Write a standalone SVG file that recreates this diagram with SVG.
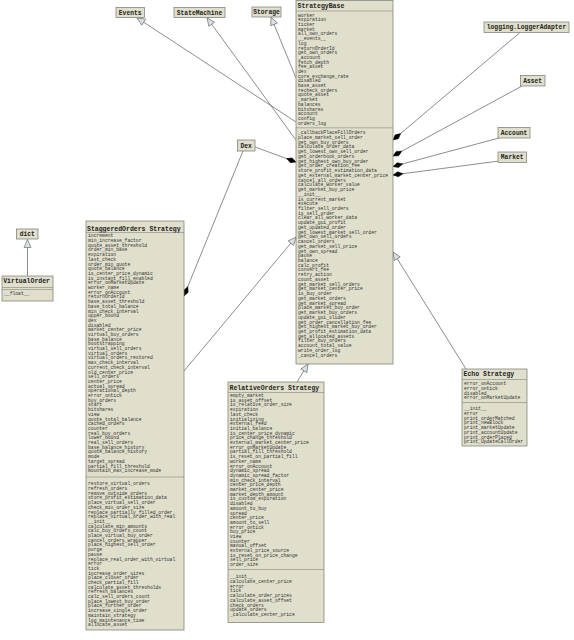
<svg xmlns="http://www.w3.org/2000/svg" width="574" height="640" viewBox="0 0 574 640">
<style>
.box{fill:#e0dfcb;stroke:#858580;stroke-width:0.8}
.sep{stroke:#858580;stroke-width:0.6}
.t{font-family:"Liberation Mono",monospace;font-size:6.5px;font-weight:bold;fill:#222}
.tc{font-family:"Liberation Mono",monospace;font-size:6.3px;font-weight:bold;fill:#222;text-anchor:middle}
.m{font-family:"Liberation Mono",monospace;font-size:4.7px;fill:#333}
.ln{fill:none;stroke:#707070;stroke-width:0.8}
.inh{marker-end:url(#tri)}
.comp{marker-end:url(#dia)}
</style>
<defs>
<marker id="tri" viewBox="-1 -1 10 9" refX="8" refY="3.5" markerWidth="10" markerHeight="9" orient="auto" markerUnits="userSpaceOnUse" overflow="visible"><path d="M0,0 L8,3.5 L0,7 Z" fill="#d6e2e8" stroke="#707070" stroke-width="0.7"/></marker>
<marker id="dia" viewBox="-1 -1 12 7" refX="10" refY="2.5" markerWidth="12" markerHeight="7" orient="auto" markerUnits="userSpaceOnUse" overflow="visible"><path d="M0,2.5 L5,0 L10,2.5 L5,5 Z" fill="#000" stroke="#000" stroke-width="0.5"/></marker>
</defs>
<rect width="574" height="640" fill="#fff"/>

<g id="connectors">
<path class="ln inh" d="M27.5,276 L27.5,239.5"/>
<path class="ln inh" d="M296,122 L137,17.8"/>
<path class="ln inh" d="M296,140 L207,17.8"/>
<path class="ln inh" d="M296,78 L271,17"/>
<path class="ln inh" d="M184,371 L296,237"/>
<path class="ln inh" d="M297,382 L308,364"/>
<path class="ln inh" d="M466,369 L393,252"/>
<path class="ln comp" d="M255,147 L296,162"/>
<path class="ln comp" d="M243,151 L184,296"/>
<path class="ln comp" d="M520,32.5 L393,140"/>
<path class="ln comp" d="M522,86 L393,156"/>
<path class="ln comp" d="M499,138 L393,166.5"/>
<path class="ln comp" d="M499,161 L393,175"/>
</g>

<g id="Events"><rect class="box" x="116" y="7.5" width="28.5" height="10"/><text class="tc" x="130.2" y="14.5">Events</text></g>
<g id="StateMachine"><rect class="box" x="174" y="7.5" width="51" height="10"/><text class="tc" x="199.5" y="14.5">StateMachine</text></g>
<g id="Storage"><rect class="box" x="252" y="7" width="29" height="10"/><text class="tc" x="266.5" y="14">Storage</text></g>
<g id="LoggerAdapter"><rect class="box" x="484" y="22" width="85" height="10.5"/><text class="tc" x="526.5" y="29.3">logging.LoggerAdapter</text></g>
<g id="Asset"><rect class="box" x="520.5" y="75.5" width="24.5" height="10.5"/><text class="tc" x="532.7" y="82.8">Asset</text></g>
<g id="Account"><rect class="box" x="498" y="127.5" width="32" height="10.5"/><text class="tc" x="514" y="134.8">Account</text></g>
<g id="Market"><rect class="box" x="498" y="152" width="28.5" height="10.5"/><text class="tc" x="512.2" y="159.3">Market</text></g>
<g id="Dex"><rect class="box" x="237.5" y="140" width="17.5" height="11"/><text class="tc" x="246.2" y="147.5">Dex</text></g>
<g id="dict"><rect class="box" x="16.5" y="229" width="21.5" height="10"/><text class="tc" x="27.2" y="236">dict</text></g>

<g id="VirtualOrder"><rect class="box" x="2" y="276" width="51" height="25"/>
<text class="t" x="3.2" y="283">VirtualOrder</text>
<line class="sep" x1="2" y1="287.5" x2="53" y2="287.5"/><line class="sep" x1="2" y1="289.5" x2="53" y2="289.5"/>
<text class="m" x="4" y="295">__float__</text></g>

<g id="StrategyBase"><rect class="box" x="296" y="0.5" width="97" height="363.5"/>
<text class="t" x="297.5" y="8.3">StrategyBase</text>
<line class="sep" x1="296" y1="11" x2="393" y2="11"/>
<text class="m" x="298" y="16.6"><tspan x="298" dy="0">worker</tspan><tspan x="298" dy="4.7">expiration</tspan><tspan x="298" dy="4.7">ticker</tspan><tspan x="298" dy="4.7">market</tspan><tspan x="298" dy="4.7">all_own_orders</tspan><tspan x="298" dy="4.7">__events__</tspan><tspan x="298" dy="4.7">log</tspan><tspan x="298" dy="4.7">returnOrderId</tspan><tspan x="298" dy="4.7">get_own_orders</tspan><tspan x="298" dy="4.7">_account</tspan><tspan x="298" dy="4.7">fetch_depth</tspan><tspan x="298" dy="4.7">fee_asset</tspan><tspan x="298" dy="4.7">dex</tspan><tspan x="298" dy="4.7">core_exchange_rate</tspan><tspan x="298" dy="4.7">disabled</tspan><tspan x="298" dy="4.7">base_asset</tspan><tspan x="298" dy="4.7">recheck_orders</tspan><tspan x="298" dy="4.7">quote_asset</tspan><tspan x="298" dy="4.7">_market</tspan><tspan x="298" dy="4.7">balances</tspan><tspan x="298" dy="4.7">bitshares</tspan><tspan x="298" dy="4.7">account</tspan><tspan x="298" dy="4.7">config</tspan><tspan x="298" dy="4.7">orders_log</tspan></text>
<line class="sep" x1="296" y1="127.8" x2="393" y2="127.8"/>
<text class="m" x="298" y="134.3"><tspan x="298" dy="0">_callbackPlaceFillOrders</tspan><tspan x="298" dy="4.73">place_market_sell_order</tspan><tspan x="298" dy="4.73">get_own_buy_orders</tspan><tspan x="298" dy="4.73">calculate_order_data</tspan><tspan x="298" dy="4.73">get_lowest_own_sell_order</tspan><tspan x="298" dy="4.73">get_orderbook_orders</tspan><tspan x="298" dy="4.73">get_highest_own_buy_order</tspan><tspan x="298" dy="4.73">get_order_creation_fee</tspan><tspan x="298" dy="4.73">store_profit_estimation_data</tspan><tspan x="298" dy="4.73">get_external_market_center_price</tspan><tspan x="298" dy="4.73">cancel_all_orders</tspan><tspan x="298" dy="4.73">calculate_worker_value</tspan><tspan x="298" dy="4.73">get_market_buy_price</tspan><tspan x="298" dy="4.73">__init__</tspan><tspan x="298" dy="4.73">is_current_market</tspan><tspan x="298" dy="4.73">execute</tspan><tspan x="298" dy="4.73">filter_sell_orders</tspan><tspan x="298" dy="4.73">is_sell_order</tspan><tspan x="298" dy="4.73">clear_all_worker_data</tspan><tspan x="298" dy="4.73">update_gui_profit</tspan><tspan x="298" dy="4.73">get_updated_order</tspan><tspan x="298" dy="4.73">get_lowest_market_sell_order</tspan><tspan x="298" dy="4.73">get_own_sell_orders</tspan><tspan x="298" dy="4.73">cancel_orders</tspan><tspan x="298" dy="4.73">get_market_sell_price</tspan><tspan x="298" dy="4.73">get_own_spread</tspan><tspan x="298" dy="4.73">pause</tspan><tspan x="298" dy="4.73">balance</tspan><tspan x="298" dy="4.73">calc_profit</tspan><tspan x="298" dy="4.73">convert_fee</tspan><tspan x="298" dy="4.73">retry_action</tspan><tspan x="298" dy="4.73">count_asset</tspan><tspan x="298" dy="4.73">get_market_sell_orders</tspan><tspan x="298" dy="4.73">get_market_center_price</tspan><tspan x="298" dy="4.73">is_buy_order</tspan><tspan x="298" dy="4.73">get_market_orders</tspan><tspan x="298" dy="4.73">get_market_spread</tspan><tspan x="298" dy="4.73">place_market_buy_order</tspan><tspan x="298" dy="4.73">get_market_buy_orders</tspan><tspan x="298" dy="4.73">update_gui_slider</tspan><tspan x="298" dy="4.73">get_order_cancellation_fee</tspan><tspan x="298" dy="4.73">get_highest_market_buy_order</tspan><tspan x="298" dy="4.73">get_profit_estimation_data</tspan><tspan x="298" dy="4.73">get_allocated_assets</tspan><tspan x="298" dy="4.73">filter_buy_orders</tspan><tspan x="298" dy="4.73">account_total_value</tspan><tspan x="298" dy="4.73">write_order_log</tspan><tspan x="298" dy="4.73">_cancel_orders</tspan></text>
</g>

<g id="StaggeredOrders"><rect class="box" x="86" y="221" width="98" height="409"/>
<text class="t" x="87" y="230.5">StaggeredOrders Strategy</text>
<line class="sep" x1="86" y1="232.5" x2="184" y2="232.5"/>
<text class="m" x="88" y="237.3"><tspan x="88" dy="0">increment</tspan><tspan x="88" dy="4.7">min_increase_factor</tspan><tspan x="88" dy="4.7">quote_asset_threshold</tspan><tspan x="88" dy="4.7">order_min_base</tspan><tspan x="88" dy="4.7">expiration</tspan><tspan x="88" dy="4.7">last_check</tspan><tspan x="88" dy="4.7">order_min_quote</tspan><tspan x="88" dy="4.7">quote_balance</tspan><tspan x="88" dy="4.7">is_center_price_dynamic</tspan><tspan x="88" dy="4.7">is_instant_fill_enabled</tspan><tspan x="88" dy="4.7">error_onMarketUpdate</tspan><tspan x="88" dy="4.7">worker_name</tspan><tspan x="88" dy="4.7">error_onAccount</tspan><tspan x="88" dy="4.7">returnOrderId</tspan><tspan x="88" dy="4.7">base_asset_threshold</tspan><tspan x="88" dy="4.7">base_total_balance</tspan><tspan x="88" dy="4.7">min_check_interval</tspan><tspan x="88" dy="4.7">upper_bound</tspan><tspan x="88" dy="4.7">dex</tspan><tspan x="88" dy="4.7">disabled</tspan><tspan x="88" dy="4.7">market_center_price</tspan><tspan x="88" dy="4.7">virtual_buy_orders</tspan><tspan x="88" dy="4.7">base_balance</tspan><tspan x="88" dy="4.7">bootstrapping</tspan><tspan x="88" dy="4.7">virtual_sell_orders</tspan><tspan x="88" dy="4.7">virtual_orders</tspan><tspan x="88" dy="4.7">virtual_orders_restored</tspan><tspan x="88" dy="4.7">max_check_interval</tspan><tspan x="88" dy="4.7">current_check_interval</tspan><tspan x="88" dy="4.7">old_center_price</tspan><tspan x="88" dy="4.7">sell_orders</tspan><tspan x="88" dy="4.7">center_price</tspan><tspan x="88" dy="4.7">actual_spread</tspan><tspan x="88" dy="4.7">operational_depth</tspan><tspan x="88" dy="4.7">error_ontick</tspan><tspan x="88" dy="4.7">buy_orders</tspan><tspan x="88" dy="4.7">start</tspan><tspan x="88" dy="4.7">bitshares</tspan><tspan x="88" dy="4.7">view</tspan><tspan x="88" dy="4.7">quote_total_balance</tspan><tspan x="88" dy="4.7">cached_orders</tspan><tspan x="88" dy="4.7">counter</tspan><tspan x="88" dy="4.7">real_buy_orders</tspan><tspan x="88" dy="4.7">lower_bound</tspan><tspan x="88" dy="4.7">real_sell_orders</tspan><tspan x="88" dy="4.7">base_balance_history</tspan><tspan x="88" dy="4.7">quote_balance_history</tspan><tspan x="88" dy="4.7">mode</tspan><tspan x="88" dy="4.7">target_spread</tspan><tspan x="88" dy="4.7">partial_fill_threshold</tspan><tspan x="88" dy="4.7">mountain_max_increase_mode</tspan></text>
<line class="sep" x1="86" y1="477" x2="184" y2="477"/>
<text class="m" x="88" y="485.3"><tspan x="88" dy="0">restore_virtual_orders</tspan><tspan x="88" dy="4.7">refresh_orders</tspan><tspan x="88" dy="4.7">remove_outside_orders</tspan><tspan x="88" dy="4.7">store_profit_estimation_data</tspan><tspan x="88" dy="4.7">place_virtual_sell_order</tspan><tspan x="88" dy="4.7">check_min_order_size</tspan><tspan x="88" dy="4.7">replace_partially_filled_order</tspan><tspan x="88" dy="4.7">replace_virtual_order_with_real</tspan><tspan x="88" dy="4.7">__init__</tspan><tspan x="88" dy="4.7">calculate_min_amounts</tspan><tspan x="88" dy="4.7">calc_buy_orders_count</tspan><tspan x="88" dy="4.7">place_virtual_buy_order</tspan><tspan x="88" dy="4.7">cancel_orders_wrapper</tspan><tspan x="88" dy="4.7">place_highest_sell_order</tspan><tspan x="88" dy="4.7">purge</tspan><tspan x="88" dy="4.7">pause</tspan><tspan x="88" dy="4.7">replace_real_order_with_virtual</tspan><tspan x="88" dy="4.7">error</tspan><tspan x="88" dy="4.7">tick</tspan><tspan x="88" dy="4.7">increase_order_sizes</tspan><tspan x="88" dy="4.7">place_closer_order</tspan><tspan x="88" dy="4.7">check_partial_fill</tspan><tspan x="88" dy="4.7">calculate_asset_thresholds</tspan><tspan x="88" dy="4.7">refresh_balances</tspan><tspan x="88" dy="4.7">calc_sell_orders_count</tspan><tspan x="88" dy="4.7">place_lowest_buy_order</tspan><tspan x="88" dy="4.7">place_further_order</tspan><tspan x="88" dy="4.7">increase_single_order</tspan><tspan x="88" dy="4.7">maintain_strategy</tspan><tspan x="88" dy="4.7">log_maintenance_time</tspan><tspan x="88" dy="4.7">allocate_asset</tspan></text>
</g>

<g id="RelativeOrders"><rect class="box" x="228" y="382" width="96" height="240.5"/>
<text class="t" x="229.5" y="390">RelativeOrders Strategy</text>
<line class="sep" x1="228" y1="392.5" x2="324" y2="392.5"/>
<text class="m" x="230" y="397"><tspan x="230" dy="0">empty_market</tspan><tspan x="230" dy="4.7">is_asset_offset</tspan><tspan x="230" dy="4.7">is_relative_order_size</tspan><tspan x="230" dy="4.7">expiration</tspan><tspan x="230" dy="4.7">last_check</tspan><tspan x="230" dy="4.7">initializing</tspan><tspan x="230" dy="4.7">external_feed</tspan><tspan x="230" dy="4.7">initial_balance</tspan><tspan x="230" dy="4.7">is_center_price_dynamic</tspan><tspan x="230" dy="4.7">price_change_threshold</tspan><tspan x="230" dy="4.7">external_market_center_price</tspan><tspan x="230" dy="4.7">error_onMarketUpdate</tspan><tspan x="230" dy="4.7">partial_fill_threshold</tspan><tspan x="230" dy="4.7">is_reset_on_partial_fill</tspan><tspan x="230" dy="4.7">worker_name</tspan><tspan x="230" dy="4.7">error_onAccount</tspan><tspan x="230" dy="4.7">dynamic_spread</tspan><tspan x="230" dy="4.7">dynamic_spread_factor</tspan><tspan x="230" dy="4.7">min_check_interval</tspan><tspan x="230" dy="4.7">center_price_depth</tspan><tspan x="230" dy="4.7">market_center_price</tspan><tspan x="230" dy="4.7">market_depth_amount</tspan><tspan x="230" dy="4.7">is_custom_expiration</tspan><tspan x="230" dy="4.7">disabled</tspan><tspan x="230" dy="4.7">amount_to_buy</tspan><tspan x="230" dy="4.7">spread</tspan><tspan x="230" dy="4.7">center_price</tspan><tspan x="230" dy="4.7">amount_to_sell</tspan><tspan x="230" dy="4.7">error_ontick</tspan><tspan x="230" dy="4.7">buy_price</tspan><tspan x="230" dy="4.7">view</tspan><tspan x="230" dy="4.7">counter</tspan><tspan x="230" dy="4.7">manual_offset</tspan><tspan x="230" dy="4.7">external_price_source</tspan><tspan x="230" dy="4.7">is_reset_on_price_change</tspan><tspan x="230" dy="4.7">sell_price</tspan><tspan x="230" dy="4.7">order_size</tspan></text>
<line class="sep" x1="228" y1="569.5" x2="324" y2="569.5"/>
<text class="m" x="230" y="578.3"><tspan x="230" dy="0">__init__</tspan><tspan x="230" dy="4.7">calculate_center_price</tspan><tspan x="230" dy="4.7">error</tspan><tspan x="230" dy="4.7">tick</tspan><tspan x="230" dy="4.7">calculate_order_prices</tspan><tspan x="230" dy="4.7">calculate_asset_offset</tspan><tspan x="230" dy="4.7">check_orders</tspan><tspan x="230" dy="4.7">update_orders</tspan><tspan x="230" dy="4.7">_calculate_center_price</tspan></text>
</g>

<g id="EchoStrategy"><rect class="box" x="462" y="369" width="65" height="77"/>
<text class="t" x="463.5" y="376.3">Echo Strategy</text>
<line class="sep" x1="462" y1="379.5" x2="527" y2="379.5"/>
<text class="m" x="464" y="385.3"><tspan x="464" dy="0">error_onAccount</tspan><tspan x="464" dy="4.7">error_ontick</tspan><tspan x="464" dy="4.7">disabled</tspan><tspan x="464" dy="4.7">error_onMarketUpdate</tspan></text>
<line class="sep" x1="462" y1="402.5" x2="527" y2="402.5"/>
<text class="m" x="464" y="410.3"><tspan x="464" dy="0">__init__</tspan><tspan x="464" dy="4.7">error</tspan><tspan x="464" dy="4.7">print_orderMatched</tspan><tspan x="464" dy="4.7">print_newBlock</tspan><tspan x="464" dy="4.7">print_marketUpdate</tspan><tspan x="464" dy="4.7">print_accountUpdate</tspan><tspan x="464" dy="4.7">print_orderPlaced</tspan><tspan x="464" dy="4.7">print_UpdateCallOrder</tspan></text>
</g>
</svg>
